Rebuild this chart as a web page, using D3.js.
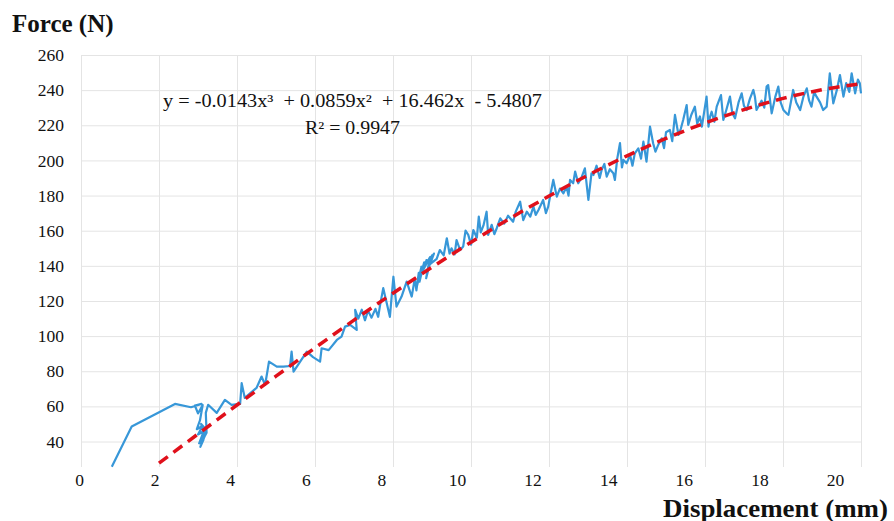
<!DOCTYPE html>
<html>
<head>
<meta charset="utf-8">
<script src="https://d3js.org/d3.v7.min.js"></script>
<style>
  body{ margin:0; background:#ffffff; }
  svg{ display:block; }
  text{ font-family:"Liberation Serif","Times New Roman",serif; fill:#111; }
  .grid line{ stroke:#e4e4e4; stroke-width:1; }
  .grid path{ display:none; }
  .ticks text{ font-family:"Liberation Serif",serif !important; font-size:17.5px !important; fill:#111; }
</style>
</head>
<body>
<svg id="chart" width="894" height="521"></svg>
<script>
var disp = [0.79,1.30,2.41,2.82,3.09,2.92,3.00,3.12,3.05,2.97,3.12,3.00,3.15,3.03,3.14,3.06,3.17,3.08,3.20,3.10,
  3.22,3.20,3.26,3.48,3.69,3.86,4.08,4.12,4.20,4.50,4.63,4.72,4.78,4.82,5.02,5.19,5.36,5.40,5.45,5.62,
  5.79,5.95,6.13,6.17,6.35,6.56,6.68,6.77,6.90,7.07,7.03,7.11,7.20,7.28,7.36,7.45,7.55,7.62,7.67,7.75,
  7.84,7.92,8.01,8.09,8.22,8.35,8.48,8.56,8.60,8.66,8.62,8.73,8.68,8.80,8.70,8.86,8.76,8.95,8.85,9.00,
  8.90,9.05,8.95,9.12,9.20,9.30,9.38,9.45,9.50,9.58,9.63,9.72,9.80,9.86,9.93,10.00,10.06,10.15,10.20,10.25,
  10.32,10.40,10.44,10.53,10.60,10.66,10.75,10.85,10.95,11.08,11.15,11.26,11.34,11.43,11.52,11.60,11.66,11.73,11.85,11.92,
  11.98,12.04,12.11,12.20,12.28,12.37,12.45,12.50,12.54,12.62,12.67,12.75,12.83,12.92,13.01,13.09,13.14,13.22,13.30,13.35,
  13.42,13.48,13.56,13.65,13.69,13.75,13.82,13.87,13.91,13.99,14.08,14.14,14.20,14.29,14.36,14.42,14.50,14.59,14.67,14.73,
  14.80,14.89,14.95,15.00,15.10,15.16,15.23,15.32,15.38,15.44,15.53,15.57,15.65,15.74,15.80,15.87,15.92,16.04,16.09,16.13,
  16.17,16.24,16.30,16.41,16.47,16.55,16.64,16.70,16.77,16.86,16.94,17.00,17.07,17.15,17.24,17.28,17.32,17.45,17.52,17.58,
  17.62,17.71,17.80,17.88,17.94,18.01,18.09,18.14,18.20,18.26,18.34,18.44,18.52,18.61,18.67,18.73,18.80,18.86,18.95,19.03,
  19.12,19.20,19.29,19.38,19.46,19.55,19.62,19.70,19.76,19.85,19.92,19.97,20.00];
var force = [25.7,48.5,61.4,59.5,61.4,60.5,56.0,60.8,52.0,47.0,49.0,44.0,46.0,39.0,41.0,37.0,43.0,50.0,47.0,40.0,
  45.0,56.3,60.9,56.3,63.7,60.9,61.4,73.2,64.8,70.5,77.0,72.2,80.0,85.5,82.6,82.6,83.0,91.2,79.8,85.5,
  91.2,88.0,85.5,93.1,92.0,97.8,99.7,105.4,106.4,103.5,114.9,110.0,115.0,109.0,114.5,110.5,115.5,111.0,117.8,127.3,
  118.7,111.0,133.8,116.8,122.5,131.0,122.5,132.9,126.0,136.0,129.0,139.5,131.0,142.0,134.0,143.3,137.0,145.0,133.0,146.0,
  139.0,147.0,141.0,144.0,149.0,146.0,155.7,147.0,150.0,146.5,154.7,149.0,151.0,160.0,157.6,152.0,160.4,156.0,168.0,159.0,
  163.0,170.8,157.6,163.3,158.0,161.4,167.0,164.0,168.5,165.1,171.0,176.5,166.0,170.8,168.0,173.7,169.0,171.8,177.5,170.0,
  173.7,181.0,188.9,179.4,184.0,181.3,185.0,180.0,188.9,187.0,193.6,187.0,190.0,195.5,177.5,192.7,191.7,197.0,190.0,194.6,
  198.0,190.8,195.0,192.7,188.9,201.0,209.8,196.0,200.3,198.4,203.0,197.0,204.0,206.9,201.0,210.7,199.3,219.2,209.8,205.0,
  208.8,212.6,207.0,216.0,217.3,211.0,225.9,214.5,218.0,223.0,231.5,220.2,226.0,230.6,221.0,225.0,219.2,236.3,219.2,224.9,
  227.7,222.0,230.6,237.2,223.0,229.0,236.3,227.0,224.0,233.0,238.2,231.0,228.7,235.0,240.1,236.3,228.7,234.0,230.0,242.0,
  242.9,226.8,236.0,242.0,233.0,228.7,226.8,225.9,233.0,240.1,233.0,228.7,236.0,241.0,234.0,230.6,239.0,236.3,233.0,228.7,
  230.6,249.6,232.5,240.0,248.6,236.3,244.0,239.0,249.6,238.2,246.0,243.9,238.2];

// polynomial trendline, values
var trendX = [2,3,4,5,6,7,8,9,10,11,12,13,14,15,16,17,18,19,20];
var trendY = [27.7,44.3,60.8,77.2,93.3,109.1,124.4,139.2,153.4,167.0,179.7,191.6,202.6,212.5,221.3,228.9,235.3,240.2,243.7];

var xTicks = [0,2,4,6,8,10,12,14,16,18,20];
var yTicks = [40,60,80,100,120,140,160,180,200,220,240,260];

var svg = d3.select("#chart");

var x = d3.scaleLinear().domain([0,20]).range([81,861]);
var y = d3.scaleLinear().domain([25.5,260]).range([467,55]);
// tick labels in the picture sit on a slightly tighter spacing than the grid
var xLab = d3.scaleLinear().domain([0,20]).range([79,835]);

// grid
svg.append("g").attr("class","grid")
  .attr("transform","translate(0,55)")
  .call(d3.axisBottom(x).tickValues(xTicks).tickSize(412).tickFormat(""));
svg.append("g").attr("class","grid")
  .attr("transform","translate(81,0)")
  .call(d3.axisRight(y).tickValues(yTicks).tickSize(780).tickFormat(""));

// y tick labels
var yAx = svg.append("g").attr("class","ticks").attr("transform","translate(64,0)")
  .call(d3.axisLeft(y).tickValues(yTicks).tickSize(0).tickPadding(0));
yAx.attr("font-family","Liberation Serif").attr("font-size",17.5);
yAx.select(".domain").remove();

// x tick labels
var xAx = svg.append("g").attr("class","ticks").attr("transform","translate(0,474)")
  .call(d3.axisBottom(xLab).tickValues(xTicks).tickSize(0).tickPadding(0));
xAx.attr("font-family","Liberation Serif").attr("font-size",17.5);
xAx.select(".domain").remove();

// measured line
var pts = disp.map(function(d,i){ return [d, force[i]]; });
svg.append("path")
  .datum(pts)
  .attr("fill","none")
  .attr("stroke","#3797d8")
  .attr("stroke-width",2.2)
  .attr("stroke-linejoin","round")
  .attr("d", d3.line().x(function(d){ return x(d[0]); }).y(function(d){ return y(d[1]); }));

// trendline
var tpts = trendX.map(function(d,i){ return [d, trendY[i]]; });
svg.append("path")
  .datum(tpts)
  .attr("fill","none")
  .attr("stroke","#e0101b")
  .attr("stroke-width",3.5)
  .attr("stroke-dasharray","11,7")
  .attr("d", d3.line().curve(d3.curveMonotoneX)
    .x(function(d){ return x(d[0]); }).y(function(d){ return y(d[1]); }));

// equation
svg.append("text")
  .attr("x",163).attr("y",107)
  .attr("textLength",379).attr("lengthAdjust","spacingAndGlyphs")
  .style("font-size","18px").style("white-space","pre")
  .text("y = -0.0143x\u00b3  + 0.0859x\u00b2  + 16.462x  - 5.4807");
svg.append("text")
  .attr("x",305).attr("y",134)
  .attr("textLength",95).attr("lengthAdjust","spacingAndGlyphs")
  .style("font-size","18px")
  .text("R\u00b2 = 0.9947");

// axis titles
svg.append("text")
  .attr("x",12).attr("y",32)
  .style("font-size","25px").style("font-weight","bold")
  .text("Force (N)");
svg.append("text")
  .attr("x",663).attr("y",517)
  .attr("textLength",225).attr("lengthAdjust","spacingAndGlyphs")
  .style("font-size","25px").style("font-weight","bold")
  .text("Displacement (mm)");
</script>
</body>
</html>
